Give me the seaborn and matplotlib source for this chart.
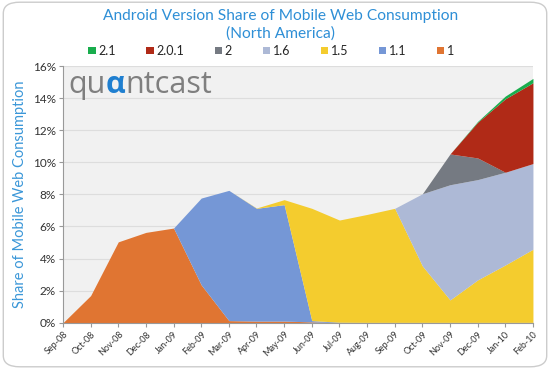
import numpy as np
import pandas as pd
import seaborn as sns
import matplotlib.pyplot as plt
from matplotlib.patches import FancyBboxPatch, Patch

months = ['Sep-08', 'Oct-08', 'Nov-08', 'Dec-08', 'Jan-09', 'Feb-09', 'Mar-09', 'Apr-09', 'May-09',
          'Jun-09', 'Jul-09', 'Aug-09', 'Sep-09', 'Oct-09', 'Nov-09', 'Dec-09', 'Jan-10', 'Feb-10']

# share of mobile web consumption in %, per version
v1_0 = [0.0, 1.69, 5.04, 5.63, 5.90, 2.36, 0.13, 0.10, 0.10, 0.05, 0.0, 0.0, 0.0, 0.0, 0.0, 0.0, 0.0, 0.0]
v1_1 = [0.0, 0.0, 0.0, 0.0, 0.0, 5.41, 8.12, 7.03, 7.26, 0.08, 0.03, 0.02, 0.02, 0.02, 0.02, 0.02, 0.02, 0.02]
v1_5 = [0.0, 0.0, 0.0, 0.0, 0.0, 0.0, 0.0, 0.02, 0.31, 7.00, 6.37, 6.73, 7.11, 3.52, 1.40, 2.65, 3.58, 4.56]
v1_6 = [0.0, 0.0, 0.0, 0.0, 0.0, 0.0, 0.0, 0.0, 0.0, 0.0, 0.0, 0.0, 0.0, 4.50, 7.18, 6.25, 5.78, 5.34]
v2_0 = [0.0, 0.0, 0.0, 0.0, 0.0, 0.0, 0.0, 0.0, 0.0, 0.0, 0.0, 0.0, 0.0, 0.0, 1.92, 1.35, 0.0, 0.0]
v2_0_1 = [0.0, 0.0, 0.0, 0.0, 0.0, 0.0, 0.0, 0.0, 0.0, 0.0, 0.0, 0.0, 0.0, 0.0, 0.0, 2.23, 4.58, 5.04]
v2_1 = [0.0, 0.0, 0.0, 0.0, 0.0, 0.0, 0.0, 0.0, 0.0, 0.0, 0.0, 0.0, 0.0, 0.0, 0.0, 0.05, 0.17, 0.27]

versions = ['1', '1.1', '1.5', '1.6', '2', '2.0.1', '2.1']
colors = ['#e07532', '#7597d6', '#f4cc2e', '#adb9d6', '#757a82', '#b02a17', '#19ad4d']

df = pd.DataFrame({'1': v1_0, '1.1': v1_1, '1.5': v1_5, '1.6': v1_6,
                   '2': v2_0, '2.0.1': v2_0_1, '2.1': v2_1}, index=months)

sns.set_theme(style='whitegrid', rc={'axes.facecolor': '#f1f1f1', 'grid.color': '#dddddd'})
plt.rcParams['font.family'] = ['Lato', 'DejaVu Sans']

fig = plt.figure(figsize=(5.5, 3.69), dpi=100)
ax = fig.add_axes([0.1145, 0.1255, 0.8545, 0.6955])

x = np.arange(len(months))
ax.stackplot(x, *[df[v] for v in versions], colors=colors, linewidth=0)

ax.set_xlim(0, len(months) - 1)
ax.set_ylim(0, 16)
ax.set_yticks(range(0, 17, 2))
ax.set_yticklabels([f'{t}%' for t in range(0, 17, 2)], fontsize=8.5, color='#333333')
ax.set_xticks(x)
ax.set_xticklabels(months, rotation=45, ha='right', rotation_mode='anchor', fontsize=6.5, color='#333333')
ax.grid(axis='x', visible=False)
ax.grid(axis='y', linewidth=0.8)
ax.set_axisbelow(True)
for s in ['top', 'right']:
    ax.spines[s].set_visible(False)
for s in ['left', 'bottom']:
    ax.spines[s].set_color('#999999')
    ax.spines[s].set_linewidth(0.8)
ax.tick_params(axis='both', length=3, width=0.8, color='#999999', pad=2, direction='out')
ax.tick_params(axis='x', bottom=True)
ax.tick_params(axis='y', left=True)

ax.set_ylabel('Share of Mobile Web Consumption', color='#3b97d8', fontsize=10.5, labelpad=4)

fig.text(0.51, 0.932, 'Android Version Share of Mobile Web Consumption\n(North America)',
         ha='center', va='center', color='#2e8fd6', fontsize=11.2, linespacing=1.3)

handles = [Patch(facecolor=c, edgecolor='none') for c in colors][::-1]
fig.legend(handles, versions[::-1], loc='center', bbox_to_anchor=(0.493, 0.862), ncol=7,
           frameon=False, fontsize=9, handlelength=0.6, handleheight=0.6, handletextpad=0.2,
           columnspacing=2.45)

# logo, pieces placed one after another
t1 = ax.text(0.012, 0.985, 'qu', transform=ax.transAxes, color='#7f7f7f', fontsize=22,
             va='top', ha='left', family='Open Sans')
t2 = ax.annotate('α', xy=(1, 0), xycoords=t1, va='bottom', ha='left', color='#1f7fd0',
                 fontsize=22, family='Open Sans', fontweight='bold')
ax.annotate('ntcast', xy=(1, 0), xycoords=t2, va='bottom', ha='left', color='#7f7f7f',
            fontsize=22, family='Open Sans')

frame = FancyBboxPatch((0.006, 0.006), 0.988, 0.988, boxstyle='round,pad=0,rounding_size=0.03',
                       transform=fig.transFigure, facecolor='none', edgecolor='#cccccc', linewidth=1)
fig.patches.append(frame)

fig.savefig('out.png', dpi=100)
